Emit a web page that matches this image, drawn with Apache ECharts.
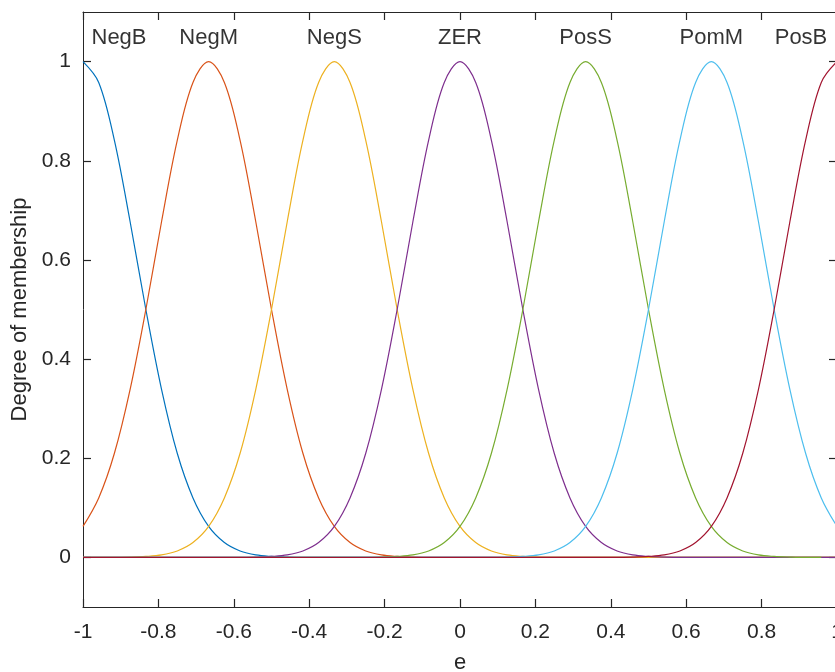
<!DOCTYPE html>
<html>
<head>
<meta charset="utf-8">
<script src="https://cdn.jsdelivr.net/npm/echarts@6/dist/echarts.min.js"></script>
<style>
html,body{margin:0;padding:0;background:#fff;}
#chart{width:835px;height:672px;}
</style>
</head>
<body>
<div id="chart"></div>
<script>
// x sample positions (input e)
var xs = [-1,-0.9583,-0.9167,-0.875,-0.8333,-0.7917,-0.75,-0.7083,-0.6667,-0.625,-0.5833,-0.5417,-0.5,-0.4583,-0.4167,-0.375,-0.3333,-0.2917,-0.25,-0.2083,-0.1667,-0.125,-0.0833,-0.0417,0,
          0.0417,0.0833,0.125,0.1667,0.2083,0.25,0.2917,0.3333,0.375,0.4167,0.4583,0.5,0.5417,0.5833,0.625,0.6667,0.7083,0.75,0.7917,0.8333,0.875,0.9167,0.9583,1];

var negB = [1,0.958,0.841,0.677,0.5,0.339,0.21,0.12,0.0625,0.03,0.013,0.005,0.002,0.0007,0.0002,
            0,0,0,0,0,0,0,0,0,0, 0,0,0,0,0,0,0,0,0,0, 0,0,0,0,0,0,0,0,0,0, 0,0,0,0];
var negM = [0.0625,0.12,0.21,0.339,0.5,0.677,0.841,0.958,1,
            0.958,0.841,0.677,0.5,0.339,0.21,0.12,0.0625,0.03,0.013,0.005,0.002,0.0007,0.0002,
            0,0,0,0,0,0,0,0,0,0, 0,0,0,0,0,0,0,0,0,0, 0,0,0,0,0,0];
var negS = [0,0,0.0002,0.0007,0.002,0.005,0.013,0.03,0.0625,0.12,0.21,0.339,0.5,0.677,0.841,0.958,1,
            0.958,0.841,0.677,0.5,0.339,0.21,0.12,0.0625,0.03,0.013,0.005,0.002,0.0007,0.0002,
            0,0,0,0,0,0,0,0,0,0, 0,0,0,0,0,0,0,0];
var zer  = [0,0,0,0,0,0,0,0,0,0,
            0.0002,0.0007,0.002,0.005,0.013,0.03,0.0625,0.12,0.21,0.339,0.5,0.677,0.841,0.958,1,
            0.958,0.841,0.677,0.5,0.339,0.21,0.12,0.0625,0.03,0.013,0.005,0.002,0.0007,0.0002,
            0,0,0,0,0,0,0,0,0,0];
var posS = [0,0,0,0,0,0,0,0,0,0, 0,0,0,0,0,0,0,0,
            0.0002,0.0007,0.002,0.005,0.013,0.03,0.0625,0.12,0.21,0.339,0.5,0.677,0.841,0.958,1,
            0.958,0.841,0.677,0.5,0.339,0.21,0.12,0.0625,0.03,0.013,0.005,0.002,0.0007,
            0,0];
var pomM = [0,0,0,0,0,0,0,0,0,0, 0,0,0,0,0,0,0,0,0,0, 0,0,0,0,0,0,
            0.0002,0.0007,0.002,0.005,0.013,0.03,0.0625,0.12,0.21,0.339,0.5,0.677,0.841,0.958,1,
            0.958,0.841,0.677,0.5,0.339,0.21,0.12,0.0625];
var posB = [0,0,0,0,0,0,0,0,0,0, 0,0,0,0,0,0,0,0,0,0, 0,0,0,0,0,0,0,0,0,0, 0,0,0,0,
            0.0002,0.0007,0.002,0.005,0.013,0.03,0.0625,0.12,0.21,0.339,0.5,0.677,0.841,0.958,1];

var mfNames = ['NegB','NegM','NegS','ZER','PosS','PomM','PosB'];
var mfValues = [negB, negM, negS, zer, posS, pomM, posB];
var mfLabelX = [-0.9045,-0.6667,-0.3333,0,0.3333,0.6667,0.9045];
var mfLabelY = 1.048;
var colors = ['#0072BD','#D95319','#EDB120','#7E2F8E','#77AC30','#4DBEEE','#A2142F'];
var yTicks = [0,0.2,0.4,0.6,0.8,1];

var FONT = 'Liberation Sans, Arial, Helvetica, sans-serif';
var AX = '#262626';

var series = mfNames.map(function(n, k){
  return {
    name: n, type: 'line', smooth: 0.35, symbol: 'none',
    xAxisIndex: 0, yAxisIndex: 0,
    lineStyle: {color: colors[k], width: 1.2},
    data: xs.map(function(x, i){ return [x, mfValues[k][i]]; }),
    z: 2 + k
  };
});
series.push({
  type: 'scatter', symbolSize: 0, xAxisIndex: 0, yAxisIndex: 0, silent: true,
  label: {show: true, position: 'inside', formatter: '{b}', color: '#000', fontSize: 22, fontFamily: FONT},
  data: mfNames.map(function(n, k){ return {name: n, value: [mfLabelX[k], mfLabelY]}; }),
  z: 20
});

function xAx(pos, showLabel){
  return {
    type: 'value', position: pos, min: -1, max: 1, interval: 0.2,
    name: showLabel ? 'e' : '', nameLocation: 'middle', nameGap: 45,
    nameTextStyle: {color: AX, fontSize: 22, fontFamily: FONT},
    axisLine: {show: true, onZero: false, lineStyle: {color: AX, width: 1}},
    axisTick: {show: true, inside: true, length: 8, lineStyle: {color: AX, width: 1.2}},
    axisLabel: {show: showLabel, color: AX, fontSize: 21, fontFamily: FONT, margin: 15, hideOverlap: false},
    splitLine: {show: false}
  };
}
function yAx(pos, showLabel){
  return {
    type: 'value', position: pos, min: -0.1, max: 1.1,
    name: showLabel ? 'Degree of membership' : '', nameLocation: 'middle', nameGap: 44, nameRotate: 90,
    nameTextStyle: {color: AX, fontSize: 22, fontFamily: FONT},
    axisLine: {show: true, onZero: false, lineStyle: {color: AX, width: 1}},
    axisTick: {show: true, inside: true, length: 8, customValues: yTicks, lineStyle: {color: AX, width: 1.2}},
    axisLabel: {show: showLabel, color: AX, fontSize: 21, fontFamily: FONT, margin: 12, customValues: yTicks},
    splitLine: {show: false}
  };
}

var chart = echarts.init(document.getElementById('chart'), null, {renderer: 'canvas'});
chart.setOption({
  animation: false,
  backgroundColor: '#fff',
  grid: {left: 83, top: 12, width: 754, height: 595, containLabel: false, outerBoundsMode: 'none'},
  xAxis: [xAx('bottom', true), xAx('top', false)],
  yAxis: [yAx('left', true), yAx('right', false)],
  series: series
});
</script>
</body>
</html>
